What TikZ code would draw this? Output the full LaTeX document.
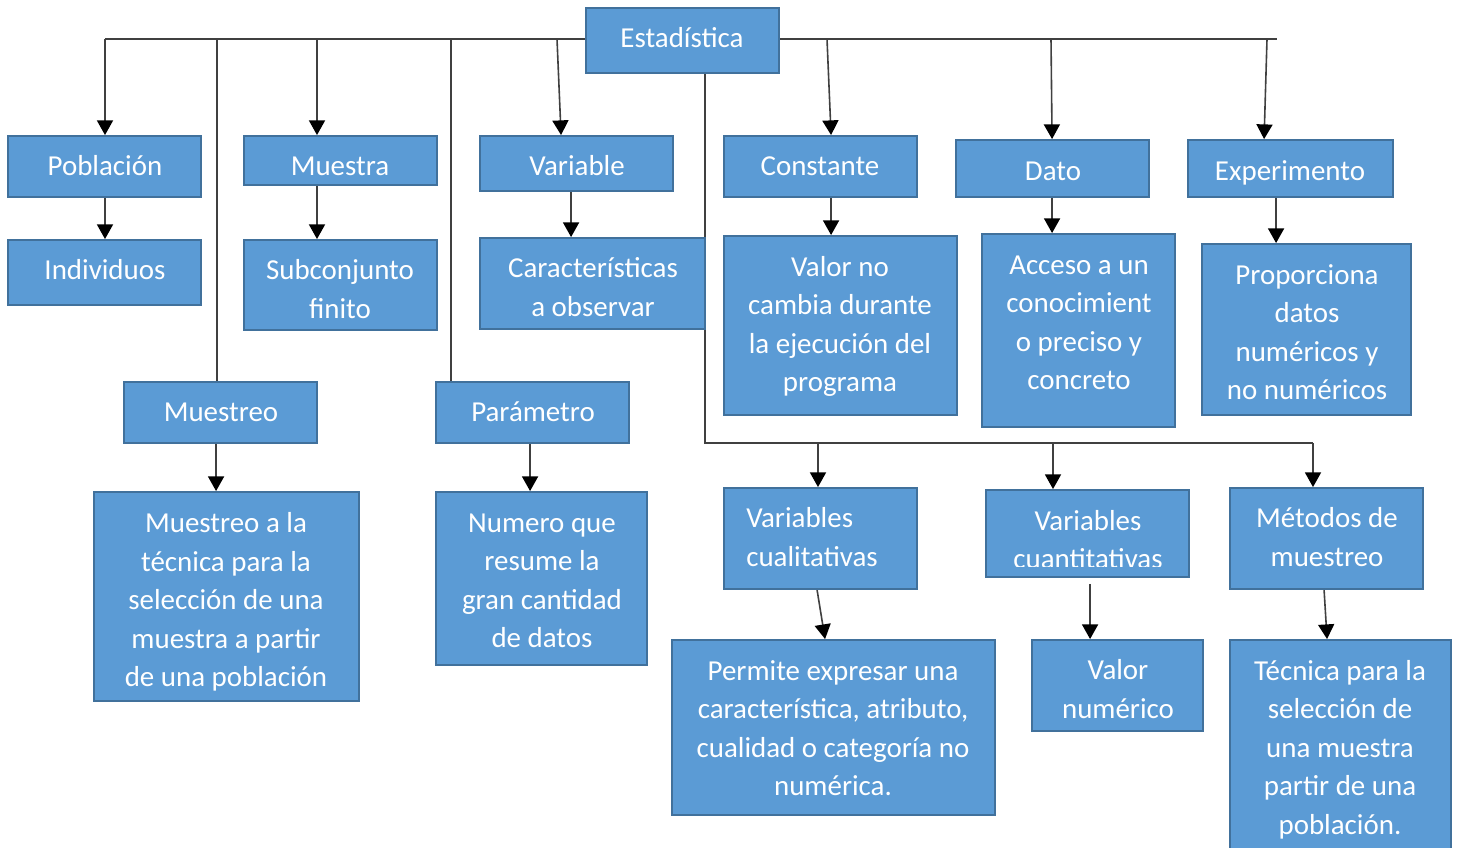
\documentclass[tikz,border=0pt]{standalone}
\usepackage{fontspec}
\setmainfont{Carlito}
\usetikzlibrary{arrows.meta,calc,backgrounds}
\definecolor{boxfill}{HTML}{5B9BD5}
\definecolor{boxedge}{HTML}{41719C}
\definecolor{linegray}{HTML}{404040}
\tikzset{
  box/.style={rectangle, fill=boxfill, draw=boxedge, line width=1.4pt, inner sep=0pt},
  txt/.style={text=white, align=center, inner sep=0pt, text depth=8.7pt,
    font=\fontsize{21.7pt}{28.9pt}\selectfont},
  l1/.style={txt, text height=23.2pt},
  l2/.style={txt, text height=52.1pt},
  l4/.style={txt, text height=109.9pt},
  l5/.style={txt, text height=138.8pt},
  sz/.style 2 args={minimum width=#1*0.75pt, minimum height=#2*0.75pt},
  trunk/.style={draw=linegray, line width=1.5pt},
  arr/.style={draw=linegray, line width=1.2pt, -{Triangle[width=12pt,length=11pt,color=black]}},
}
\begin{document}
\begin{tikzpicture}[x=0.75pt,y=-0.75pt]
\useasboundingbox (0,0) rectangle (1463,848);

% boxes
\node[box, sz={193}{65}]  (est) at (682.5,40.5) {};
\node[box, sz={193}{61}]  (pob) at (104.5,166.5) {};
\node[box, sz={193}{65}]  (ind) at (104.5,272.5) {};
\node[box, sz={193}{49}]  (mue) at (340.5,160.5) {};
\node[box, sz={193}{90}]  (sub) at (340.5,285) {};
\node[box, sz={193}{55}]  (var) at (576.5,163.5) {};
\node[box, sz={225}{91}]  (car) at (592.5,283.5) {};
\node[box, sz={193}{61}]  (con) at (820.5,166.5) {};
\node[box, sz={233}{179}] (val) at (840.5,325.5) {};
\node[box, sz={193}{57}]  (dat) at (1052.5,168.5) {};
\node[box, sz={193}{193}] (acc) at (1078.5,330.5) {};
\node[box, sz={205}{57}]  (exp) at (1290.5,168.5) {};
\node[box, sz={209}{171}] (pro) at (1306.5,329.5) {};
\node[box, sz={193}{61}]  (mtr) at (220.5,412.5) {};
\node[box, sz={265}{209}] (mtt) at (226.5,596.5) {};
\node[box, sz={193}{61}]  (par) at (532.5,412.5) {};
\node[box, sz={211}{173}] (num) at (541.5,578.5) {};
\node[box, sz={193}{101}] (vcl) at (820.5,538.5) {};
\node[box, sz={323}{175}] (per) at (833.5,727.5) {};
\node[box, sz={203}{87}]  (vcn) at (1087.5,533.5) {};
\node[box, sz={171}{91}]  (vnu) at (1117.5,685.5) {};
\node[box, sz={193}{101}] (met) at (1326.5,538.5) {};
\node[box, sz={221}{216}] (tec) at (1340.5,748) {};

% texts
\node[l1] (estt) at (682,38) {Estadística};
\node[l1] (pobt) at (105,166) {Población};
\node[l1] (indt) at (105,270) {Individuos};
\node[l1] (muet) at (340,166) {Muestra};
\node[l2] (subt) at (340,289.5) {Subconjunto\\finito};
\node[l1] (vart) at (577,166) {Variable};
\node[l2] (cart) at (593,287.5) {Características\\a observar};
\node[l1] (cont) at (820,166) {Constante};
\node[l4] (valt) at (840,324.5) {Valor no\\cambia durante\\la ejecución del\\programa};
\node[l1] (datt) at (1053,171) {Dato};
\node[l4] (acct) at (1079,322.5) {Acceso a un\\conocimient\\o preciso y\\concreto};
\node[l1] (expt) at (1290,171) {Experimento};
\node[l4] (prot) at (1307,332.5) {Proporciona\\datos\\numéricos y\\no numéricos};
\node[l1] (mtrt) at (221,412) {Muestreo};
\node[l5] (mttt) at (226,600) {Muestreo a la\\técnica para la\\selección de una\\muestra a partir\\de una población};
\node[l1] (part) at (533,412) {Parámetro};
\node[l4] (numt) at (542,580.5) {Numero que\\resume la\\gran cantidad\\de datos};
\node[l2, align=left, anchor=west] (vclt) at (746,537.5) {Variables\\cualitativas};
\node[l4] (pert) at (833,728.5) {Permite expresar una\\característica, atributo,\\cualidad o categoría no\\numérica.};
\begin{scope}
  \clip (986,491) rectangle (1189,566);
  \node[l2] (vcnt) at (1088,540) {Variables\\cuantitativas};
\end{scope}
\node[l2] (vnut) at (1118,689.5) {Valor\\numérico};
\node[l2] (mett) at (1327,537.5) {Métodos de\\muestreo};
\node[l5] (tect) at (1340,747.5) {Técnica para la\\selección de\\una muestra\\partir de una\\población.};

% branch points
\coordinate (tPob) at (105,39);
\coordinate (tMtr) at (217,39);
\coordinate (tMue) at (317,39);
\coordinate (tPar) at (451,39);
\coordinate (tVar) at (557,39);
\coordinate (tCon) at (827,39);
\coordinate (tDat) at (1051,39);
\coordinate (tExp) at (1267,39);
\coordinate (tEnd) at (1277,39);
\coordinate (dDown) at (705,443);
\coordinate (dEnd) at (1313,443);
\coordinate (bVcl) at (818,443);
\coordinate (bVcn) at (1053,443);

\begin{pgfonlayer}{background}
  \draw[trunk] (tPob) -- (tEnd);
  \draw[arr] (tPob) -- (pob.north -| tPob);
  \draw[trunk] (tMtr) -- (mtr.north -| tMtr);
  \draw[arr] (tMue) -- (mue.north -| tMue);
  \draw[trunk] (tPar) -- (par.north -| tPar);
  \draw[arr] (tVar) -- ($(var.north west)+(82,0)$);
  \draw[arr] (tCon) -- ($(con.north west)+(108,0)$);
  \draw[arr] (tDat) -- ($(dat.north west)+(97,0)$);
  \draw[arr] (tExp) -- ($(exp.north west)+(77,0)$);

  \draw[arr] (pob.south -| tPob) -- (ind.north -| tPob);
  \draw[arr] (mue.south -| tMue) -- (sub.north -| tMue);
  \draw[arr] ($(var.south west)+(92,0)$) -- ($(car.north west)+(92,0)$);
  \draw[arr] ($(con.south west)+(108,0)$) -- ($(val.north west)+(108,0)$);
  \draw[arr] ($(dat.south west)+(97,0)$) -- ($(acc.north west)+(71,0)$);
  \draw[arr] ($(exp.south west)+(89,0)$) -- ($(pro.north west)+(75,0)$);

  \draw[arr] ($(mtr.south west)+(93,0)$) -- ($(mtt.north west)+(123,0)$);
  \draw[arr] ($(par.south west)+(95,0)$) -- ($(num.north west)+(95,0)$);

  \draw[trunk] (est.south -| dDown) -- (dDown) -- (dEnd);
  \draw[arr] (bVcl) -- (vcl.north -| bVcl);
  \draw[arr] (bVcn) -- (vcn.north -| bVcn);
  \draw[arr] (dEnd) -- (met.north -| dEnd);

  \draw[arr] ($(vcl.south west)+(94,0)$) -- ($(per.north west)+(154,0)$);
  \draw[arr] ($(vcn.south west)+(105,6)$) -- ($(vnu.north west)+(59,0)$);
  \draw[arr] ($(met.south west)+(95,0)$) -- ($(tec.north west)+(98,0)$);
\end{pgfonlayer}
\end{tikzpicture}
\end{document}
